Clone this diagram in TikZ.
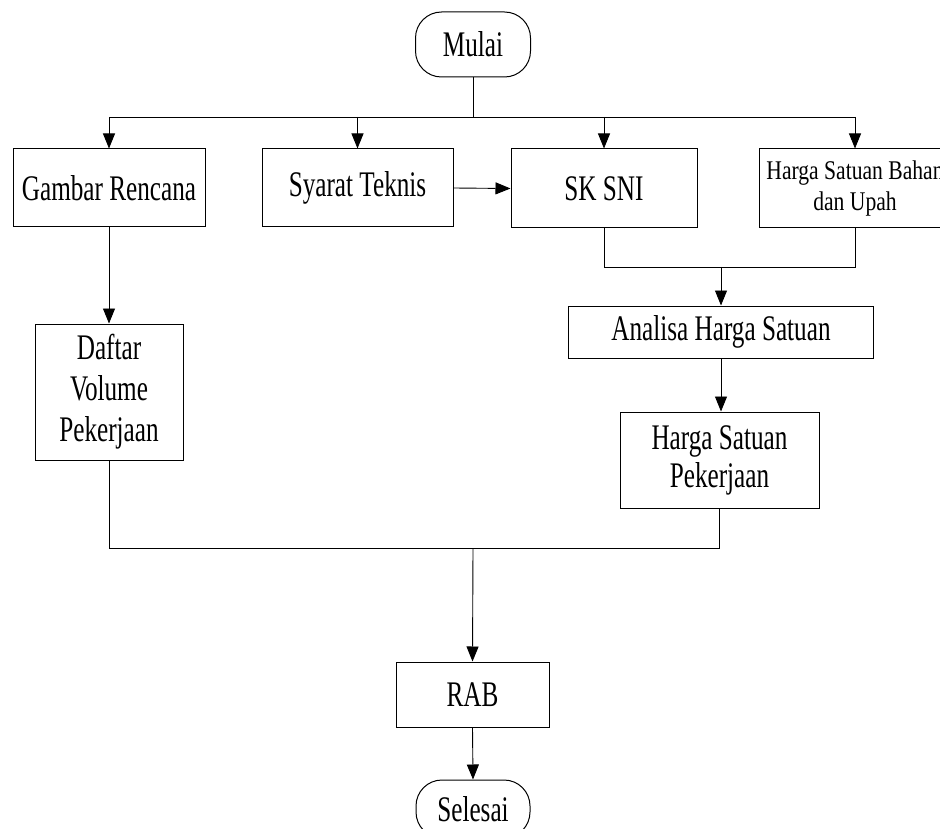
\documentclass[tikz,border=0pt]{standalone}
\usepackage{fontspec}
\setmainfont{Liberation Serif}
\newfontfamily\boxfont[FakeStretch=0.7]{Liberation Serif}
\newfontfamily\smallboxfont[FakeStretch=0.8]{Liberation Serif}
\usetikzlibrary{arrows.meta}
\begin{document}
\begin{tikzpicture}[x=1pt,y=-1pt,
  proc/.style={draw, line width=1pt, inner sep=0pt, align=center,
    font=\boxfont\fontsize{36}{41}\selectfont},
  term/.style={proc, rounded corners=26pt},
  link/.style={line width=0.9pt},
  flow/.style={link, -{Triangle[length=15pt,width=12pt]}}]
\useasboundingbox (0,0) rectangle (940,829);
\clip (0,0) rectangle (940,829);

% terminals
\node[term, minimum width=115pt, minimum height=65pt] (mulai) at (473,44.5) {Mulai};
\node[term, minimum width=114pt, minimum height=58pt] (selesai) at (473,809) {Selesai};

% first row of inputs
\node[proc, minimum width=192pt, minimum height=78pt] (gambar) at (109,188) {Gambar Rencana};
\node[proc, minimum width=191pt, minimum height=78pt] (syarat) at (357.5,188) {Syarat Teknis};
\node[proc, minimum width=186pt, minimum height=79pt] (sksni) at (604,188.5) {SK SNI};
\node[proc, minimum width=192pt, minimum height=79pt,
  font=\smallboxfont\fontsize{27}{31}\selectfont] (bahan) at (855,188.5) {Harga Satuan Bahan\\dan Upah};

% processing steps
\node[proc, minimum width=148pt, minimum height=136pt] (daftar) at (109,392) {Daftar\\Volume\\Pekerjaan};
\node[proc, minimum width=305pt, minimum height=52pt] (analisa) at (721,332) {Analisa Harga Satuan};
\node[proc, minimum width=199pt, minimum height=96pt,
  font=\boxfont\fontsize{36}{38}\selectfont] (hsp) at (719.5,460) {Harga Satuan\\Pekerjaan};
\node[proc, minimum width=153pt, minimum height=65pt] (rab) at (472.5,694.5) {RAB};

% distribution bus from the start
\coordinate (bus) at (473,117);
\draw[link] (mulai.south) -- (bus);
\draw[link] (gambar.north |- bus) -- (bahan.north |- bus);
\foreach \n in {gambar,syarat,sksni,bahan}
  \draw[flow] (\n.north |- bus) -- (\n.north);

\draw[flow] (syarat.east) -- (sksni.west);

% SK SNI and material prices merge into the unit price analysis
\coordinate (mergeA) at (721,267);
\draw[link] (sksni.south) -- (sksni.south |- mergeA) -- (bahan.south |- mergeA) -- (bahan.south);
\draw[flow] (mergeA) -- (analisa.north);
\draw[flow] (analisa.south) -- (analisa.south |- hsp.north);

\draw[flow] (gambar.south) -- (daftar.north);

% volumes and unit prices merge into the cost estimate
\coordinate (mergeB) at (473,548);
\draw[link] (daftar.south) |- (mergeB);
\draw[link] (hsp.south) |- (mergeB);
\draw[flow] (mergeB) -- (rab.north);
\draw[flow] (rab.south) -- (selesai.north);
\end{tikzpicture}
\end{document}
